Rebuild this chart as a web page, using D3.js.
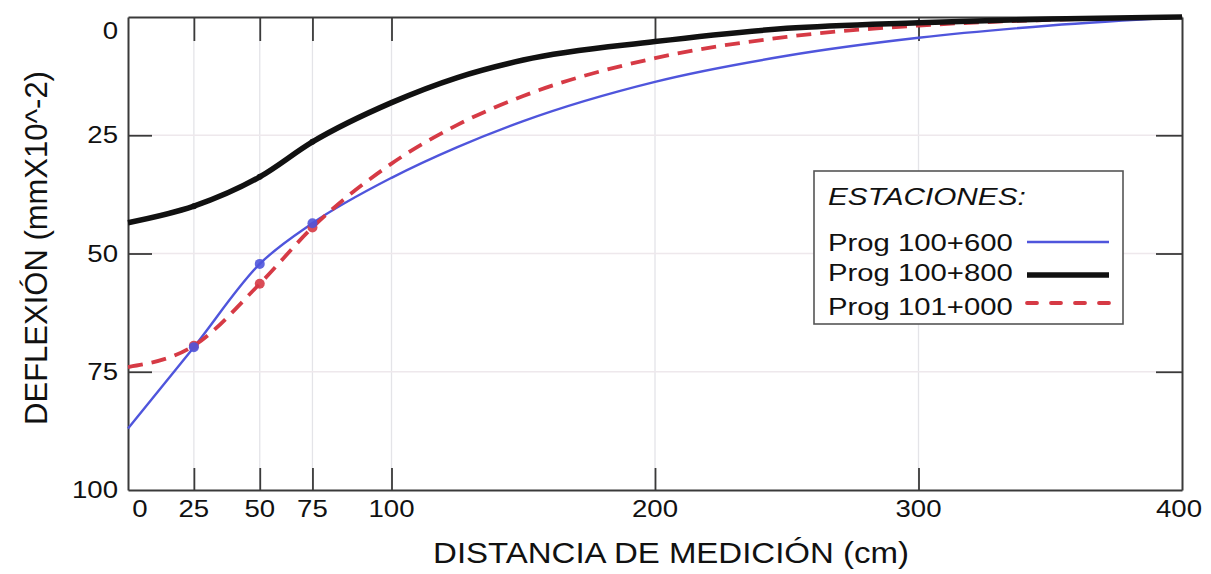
<!DOCTYPE html>
<html>
<head>
<meta charset="utf-8">
<script src="https://cdn.jsdelivr.net/npm/d3@7"></script>
<style>
  html, body { margin: 0; padding: 0; background: #fff; }
  svg { display: block; font-family: "Liberation Sans", Arial, sans-serif; }
</style>
</head>
<body>
<svg id="chart" width="1211" height="574"></svg>
<script>
// Distances (cm) and deflections (mm x 10^-2)
const distances = [0, 25, 50, 75, 100, 125, 150, 200, 250, 300, 350, 400];
const prog100600 = [87, 69.8, 52.2, 43.6, 34, 27.5, 22, 13.7, 8.2, 4.4, 1.8, 0];
const prog100800 = [43.5, 40, 33.8, 26.4, 18.1, 12.8, 9.1, 5.2, 2.4, 1.2, 0.4, 0];
const prog101000 = [74, 69.5, 56.4, 44.5, 31, 22.8, 16.7, 8.7, 4.2, 1.8, 0.6, 0];
const markerDistances = [25, 50, 75];

const xTicks = [0, 25, 50, 75, 100, 200, 300, 400];
const xGrid = [25, 50, 75, 100, 200, 300];
const yTicks = [0, 25, 50, 75, 100];
const yGrid = [25, 50, 75];
const rightTicks = [25, 50, 75];

// the original axis puts its "75" where 70 would fall on a plain linear axis
const xAxisStops = [0, 50, 75, 100, 400];
const xAxisSpots = [0, 50, 70, 100, 400];

const series = [
  { name: "Prog 100+600", values: prog100600, color: "#4f55dc", width: 2.4, dash: null, r: 5 },
  { name: "Prog 100+800", values: prog100800, color: "#111111", width: 5.5, dash: null, r: 3 },
  { name: "Prog 101+000", values: prog101000, color: "#d63a45", width: 3.8, dash: "15,9", r: 5 },
];

const svg = d3.select("#chart");
const margin = { top: 17, right: 29, bottom: 84, left: 128 };
const width = 1211 - margin.left - margin.right;
const height = 574 - margin.top - margin.bottom;

const xBase = d3.scaleLinear().domain([0, 400]).range([0, width]);
const x = d3.scaleLinear().domain(xAxisStops).range(xAxisSpots.map(xBase));
const y = d3.scaleLinear().domain([0, 100]).range([0, height]);

const g = svg.append("g").attr("transform", `translate(${margin.left},${margin.top})`);

// stretched text (the source picture is a bit wider than tall)
function label(parent, tx, ty, txt, size, stretch, anchor, italic){
  return parent.append("text")
    .attr("transform", `translate(${tx},${ty}) scale(${stretch},1)`)
    .attr("text-anchor", anchor || "start")
    .attr("font-size", size)
    .attr("font-style", italic ? "italic" : "normal")
    .attr("fill", "#111")
    .text(txt);
}

// grid
g.selectAll("line.vgrid").data(xGrid).join("line")
  .attr("class", "vgrid")
  .attr("x1", d => x(d)).attr("x2", d => x(d))
  .attr("y1", 0).attr("y2", height)
  .attr("stroke", "#e4e4e8").attr("stroke-width", 1.3);
g.selectAll("line.hgrid").data(yGrid).join("line")
  .attr("class", "hgrid")
  .attr("x1", 0).attr("x2", width)
  .attr("y1", d => y(d)).attr("y2", d => y(d))
  .attr("stroke", "#eee8ec").attr("stroke-width", 1.3);

// axes (ticks point inwards)
const axisColor = "#3a3a3a";
const bottomAxis = g.append("g").attr("transform", `translate(0,${height})`)
  .call(d3.axisBottom(x).tickValues(xTicks.filter(d => d > 0 && d < 400)).tickSizeInner(-22).tickSizeOuter(0).tickFormat(""));
const topAxis = g.append("g")
  .call(d3.axisTop(x).tickValues(xGrid).tickSizeInner(-24).tickSizeOuter(0).tickFormat(""));
const leftAxis = g.append("g")
  .call(d3.axisLeft(y).tickValues(yGrid).tickSizeInner(-24).tickSizeOuter(0).tickFormat(""));
const rightAxis = g.append("g").attr("transform", `translate(${width},0)`)
  .call(d3.axisRight(y).tickValues(rightTicks).tickSizeInner(-26).tickSizeOuter(0).tickFormat(""));
[bottomAxis, topAxis, leftAxis, rightAxis].forEach(a => {
  a.select(".domain").attr("stroke", axisColor).attr("stroke-width", 2);
  a.selectAll(".tick line").attr("stroke", axisColor).attr("stroke-width", 1.8);
});

// tick labels
xTicks.forEach(d => {
  const off = d === 0 ? 12 : (d === 400 ? -3 : 0);
  label(g, x(d) + off, height + 27, String(d), 23, 1.2, "middle");
});
yTicks.forEach(d => {
  const off = d === 0 ? 22 : 8;
  label(g, -10, y(d) + off, String(d), 23, 1.2, "end");
});

// lines
const line = d3.line()
  .x((d, i) => x(distances[i]))
  .y(d => y(d))
  .curve(d3.curveMonotoneX);

[0, 2, 1].forEach(k => {
  const s = series[k];
  g.append("path")
    .datum(s.values)
    .attr("fill", "none")
    .attr("stroke", s.color)
    .attr("stroke-width", s.width)
    .attr("stroke-dasharray", s.dash)
    .attr("d", line);
});
// markers: red under blue, black on top
[2, 0, 1].forEach(k => {
  const s = series[k];
  const pts = markerDistances.map(dist => ({ dist, v: s.values[distances.indexOf(dist)] }));
  g.selectAll(null).data(pts).join("circle")
    .attr("cx", d => x(d.dist))
    .attr("cy", d => y(d.v))
    .attr("r", s.r)
    .attr("fill", s.color)
    .attr("fill-opacity", 0.9);
});

// axis titles
label(svg, 671, 563, "DISTANCIA DE MEDICIÓN (cm)", 30, 1.1, "middle");
svg.append("text")
  .attr("transform", `translate(47,248) rotate(-90)`)
  .attr("text-anchor", "middle")
  .attr("font-size", 31)
  .attr("fill", "#111")
  .text("DEFLEXIÓN (mmX10^-2)");

// legend
const leg = svg.append("g").attr("transform", "translate(814,171)");
leg.append("rect")
  .attr("width", 309).attr("height", 153)
  .attr("fill", "#fff")
  .attr("stroke", "#555").attr("stroke-width", 1.6);
label(leg, 14, 34, "ESTACIONES:", 24, 1.24, "start", true);
const legTextY = [80, 110, 144];
const legLineY = [71, 104, 132];
series.forEach((s, i) => {
  label(leg, 14, legTextY[i], s.name, 24, 1.22, "start");
  leg.append("line")
    .attr("x1", 213).attr("x2", 295)
    .attr("y1", legLineY[i]).attr("y2", legLineY[i])
    .attr("stroke", s.color)
    .attr("stroke-width", s.width)
    .attr("stroke-dasharray", s.dash ? "10,14" : null)
    .attr("stroke-linecap", s.dash ? "round" : "butt");
});
</script>
</body>
</html>
